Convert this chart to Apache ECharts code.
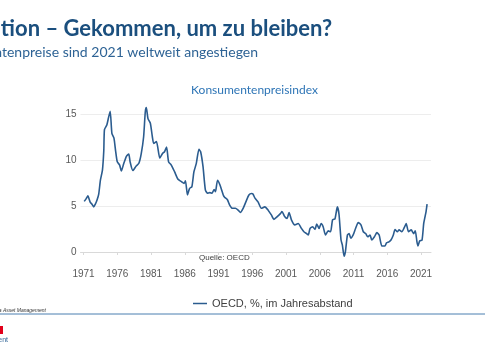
<!DOCTYPE html>
<html>
<head>
<meta charset="utf-8">
<script src="https://cdn.jsdelivr.net/npm/echarts@6/dist/echarts.min.js"></script>
<style>html,body{margin:0;padding:0;background:#fff;}#c{width:485px;height:360px;}</style>
</head>
<body>
<div id="c"></div>
<script>
const seriesName = 'OECD, %, im Jahresabstand';
const years = [1971.1,1971.4,1971.65,1971.85,1972.0,1972.25,1972.5,1972.75,1973.0,1973.25,1973.5,1973.8,1974.0,1974.1,1974.45,1974.7,1974.95,1975.2,1975.5,1975.75,1976.0,1976.35,1976.6,1976.95,1977.35,1977.7,1977.9,1978.3,1978.8,1979.2,1979.55,1979.9,1980.15,1980.3,1980.55,1980.9,1981.2,1981.4,1981.8,1982.3,1982.7,1983.0,1983.3,1983.6,1984.0,1984.5,1985.0,1985.5,1985.9,1986.1,1986.4,1986.7,1987.05,1987.35,1987.7,1988.1,1988.35,1988.7,1989.05,1989.35,1989.7,1990.05,1990.35,1990.55,1990.85,1991.2,1991.7,1991.9,1992.3,1992.65,1993.05,1993.5,1993.9,1994.25,1994.65,1995.05,1995.5,1995.9,1996.1,1996.4,1996.85,1997.35,1997.85,1998.35,1998.85,1999.2,1999.7,2000.2,2000.4,2000.8,2001.15,2001.45,2001.8,2002.3,2002.8,2003.3,2003.65,2004.05,2004.3,2004.55,2004.95,2005.3,2005.55,2005.9,2006.2,2006.5,2006.85,2007.25,2007.6,2007.9,2008.25,2008.6,2008.85,2009.15,2009.35,2009.6,2009.8,2010.1,2010.35,2010.6,2010.95,2011.3,2011.7,2012.1,2012.45,2012.8,2013.1,2013.45,2013.7,2014.1,2014.45,2014.8,2015.2,2015.65,2015.9,2016.25,2016.55,2016.9,2017.15,2017.5,2017.75,2018.15,2018.55,2018.8,2019.15,2019.55,2019.9,2020.15,2020.4,2020.55,2020.8,2021.15,2021.4,2021.6,2021.75,2021.9];
const values = [5.5,5.8,6.1,5.7,5.4,5.2,4.9,5.2,5.65,6.3,7.8,8.9,11.0,13.3,13.8,14.6,15.3,12.9,12.4,11.0,9.8,9.45,8.8,9.6,10.4,10.65,9.8,8.85,9.35,9.65,10.7,12.5,15.25,15.7,14.5,14.0,12.5,11.8,12.0,10.2,10.7,10.9,11.4,9.8,9.45,8.7,7.9,7.65,7.45,7.75,6.2,6.9,7.1,8.7,9.6,11.15,10.9,9.3,6.75,6.4,6.45,6.4,6.8,6.55,7.8,7.3,6.2,5.95,5.7,5.1,4.75,4.75,4.55,4.3,4.75,5.45,6.2,6.35,6.3,5.85,5.45,4.75,4.9,4.55,4.0,3.55,3.85,4.2,4.4,3.85,3.65,4.3,3.5,2.95,3.1,2.55,2.2,2.0,1.85,2.55,2.75,2.45,3.05,2.55,3.1,2.75,1.85,2.3,2.2,3.5,3.6,4.9,4.1,1.3,0.75,-0.45,0.05,1.85,2.0,1.5,1.85,2.55,3.2,2.95,2.2,2.0,1.65,1.85,1.3,1.65,2.1,1.85,0.65,0.65,1.0,1.1,1.3,1.85,2.45,2.2,2.4,2.2,2.7,3.1,2.2,2.4,2.0,2.3,1.1,0.65,1.2,1.3,3.1,3.85,4.4,5.2];
const xTicks = [1971,1976,1981,1986,1991,1996,2001,2006,2011,2016,2021];
const yTicks = [0,5,10,15];

const data = years.map((y, i) => [y, values[i]]);
const chart = echarts.init(document.getElementById('c'), null, {renderer: 'canvas'});
const axisFont = 'Liberation Sans, Arial, sans-serif';
chart.setOption({
  animation: false,
  backgroundColor: '#ffffff',
  title: {
    text: 'Konsumentenpreisindex',
    left: 249.5, top: 79, textAlign: 'center',
    textStyle: {fontFamily: 'Lato, sans-serif', fontSize: 12, fontWeight: 'normal', color: '#2E75B6'}
  },
  grid: {left: 80.5, right: 54, top: 95.6, bottom: 95.5, containLabel: false},
  xAxis: {
    type: 'value', min: 1970.55, max: 2022.48,
    axisLine: {show: true, lineStyle: {color: '#D9D9D9', width: 1}},
    axisTick: {show: true, customValues: xTicks, length: 3, lineStyle: {color: '#D9D9D9'}},
    axisLabel: {customValues: xTicks, formatter: v => String(v), color: '#595959', fontFamily: axisFont, fontSize: 10, margin: 5},
    splitLine: {show: false}
  },
  yAxis: {
    type: 'value', min: -1.36, max: 17,
    axisLine: {show: false}, axisTick: {show: false, customValues: yTicks},
    axisLabel: {customValues: yTicks, color: '#595959', fontFamily: axisFont, fontSize: 10, margin: 4},
    splitLine: {show: true, customValues: yTicks, lineStyle: {color: '#EDEDED', width: 1}}
  },
  legend: {
    show: true, left: 188, top: 293,
    icon: 'rect', itemWidth: 14, itemHeight: 1.5, itemGap: 10,
    textStyle: {fontFamily: axisFont, fontSize: 11, color: '#404040'},
    data: [seriesName]
  },
  series: [{
    name: seriesName, type: 'line', data: data, showSymbol: false, symbol: 'none',
    smooth: 0.2,
    lineStyle: {color: '#2B5C8F', width: 1.6},
    itemStyle: {color: '#2B5C8F'}
  }],
  graphic: [
    {type: 'text', right: 485 - 332, top: 18, style: {text: 'Inflation – Gekommen, um zu bleiben?', font: 'bold 22px Lato, sans-serif', fill: '#1B4F7E', textAlign: 'right'}},
    {type: 'text', right: 485 - 258, top: 45, style: {text: 'Konsumentenpreise sind 2021 weltweit angestiegen', font: '14px Lato, sans-serif', fill: '#2E6395'}},
    {type: 'text', left: 199, top: 254, style: {text: 'Quelle: OECD', font: '8px Liberation Sans, Arial, sans-serif', fill: '#404040'}},
    {type: 'text', right: 485 - 46, top: 308, style: {text: 'Deka Asset Management', font: 'italic 5px Liberation Sans, Arial, sans-serif', fill: '#333333'}},
    {type: 'line', shape: {x1: 0, y1: 314, x2: 485, y2: 314}, style: {stroke: '#4A7EB0', lineWidth: 1}},
    {type: 'rect', shape: {x: 0, y: 326, width: 3, height: 8}, style: {fill: '#E2001A'}},
    {type: 'text', right: 485 - 8, top: 337, style: {text: 'Deka Investment', font: '7px Liberation Sans, Arial, sans-serif', fill: '#2E6395'}}
  ]
});
</script>
</body>
</html>
